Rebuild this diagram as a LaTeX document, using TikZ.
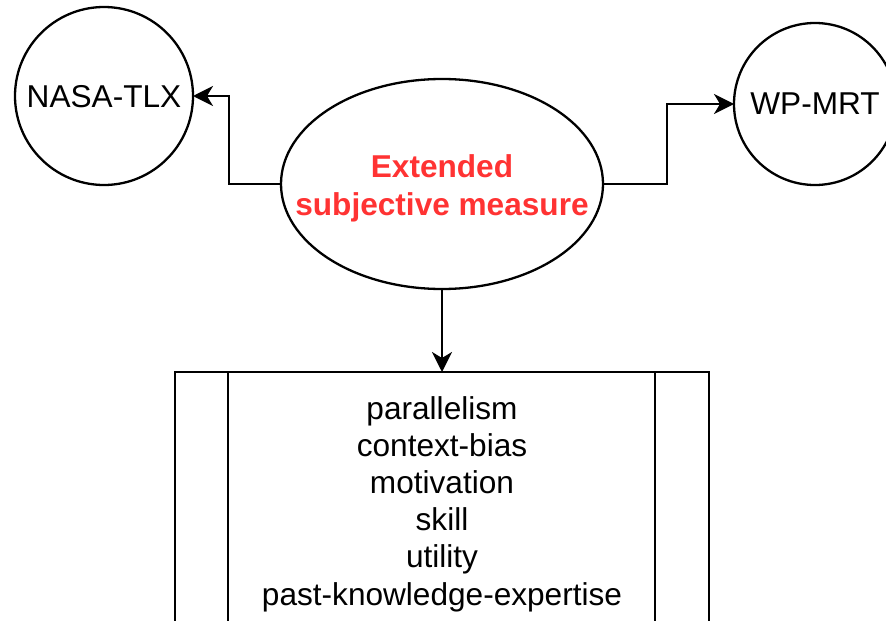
\documentclass[tikz,border=0pt]{standalone}
\usepackage{fontspec}
\setmainfont{Liberation Sans}
\usetikzlibrary{shapes.geometric,arrows.meta}
\definecolor{accent}{HTML}{FF3333}
\tikzset{
  stroke/.style={line width=2.3pt},
  link/.style={stroke,-{Stealth[length=20pt,width=20pt,inset=6pt]}},
  bubble/.style={draw,circle,stroke,inner sep=0pt,outer sep=0pt},
  txt/.style={font=\fontsize{31.6}{37.2}\selectfont,align=center,inner sep=0pt},
}
\begin{document}
\begin{tikzpicture}[x=1pt,y=-1pt]
  \useasboundingbox (0,0) rectangle (886,621);
  \clip (0,0) rectangle (886,621);

  % measure ellipse and the two instruments
  \node (core) [draw,ellipse,stroke,minimum width=322pt,minimum height=210pt,
                inner sep=0pt,outer sep=0pt] at (442,184) {};
  \node [txt,text=accent,font=\bfseries\fontsize{31.6}{38}\selectfont] at (442,188)
        {Extended\\subjective measure};
  \node (nasa) [bubble,minimum size=178pt] at (104,96) {};
  \node [txt] at (104,97) {NASA-TLX};
  \node (wp) [bubble,minimum size=162pt] at (815,104) {};
  \node [txt] at (815,104) {WP-MRT};

  % process box with the dimensions
  \node (dims) [draw,stroke,anchor=north,minimum width=534pt,minimum height=300pt,
                inner sep=0pt,outer sep=0pt] at (442,372) {};
  \draw [stroke] ([xshift=53pt]dims.north west) -- ([xshift=53pt]dims.south west);
  \draw [stroke] ([xshift=-54pt]dims.north east) -- ([xshift=-54pt]dims.south east);
  \node [txt] at (442,504)
        {parallelism\\context-bias\\motivation\\skill\\utility\\past-knowledge-expertise};

  % connectors
  \coordinate (lk) at (229,184);
  \coordinate (rk) at (667,184);
  \draw [link] (core.west) -- (lk) |- (nasa.east);
  \draw [link] (core.east) -- (rk) |- (wp.west);
  \draw [link] (core.south) -- (dims.north);
\end{tikzpicture}
\end{document}
